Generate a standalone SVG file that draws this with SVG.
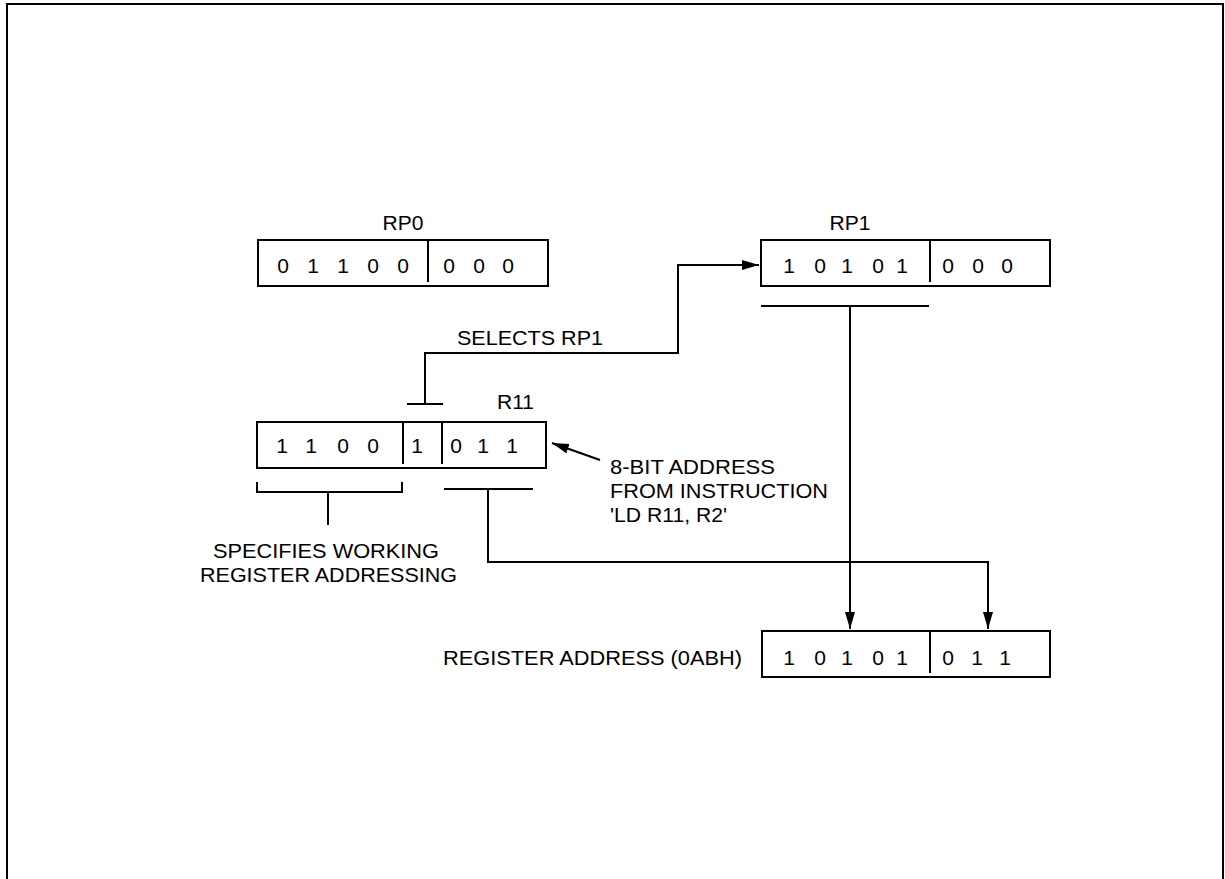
<svg xmlns="http://www.w3.org/2000/svg" width="1225" height="879" viewBox="0 0 1225 879">
<defs>
<style>
text{font-family:"Liberation Sans",Arial,sans-serif;font-size:21px;fill:#000}
.d{text-anchor:middle}
.box{fill:#fff;stroke:#000;stroke-width:2}
.ln{fill:none;stroke:#000;stroke-width:2}
</style>
<marker id="ah" markerUnits="userSpaceOnUse" markerWidth="20" markerHeight="12" refX="17" refY="5" orient="auto">
<path d="M0,0 L17,5 L0,10 Z" fill="#000"/>
</marker>
</defs>
<rect x="0" y="0" width="1225" height="879" fill="#fff"/>
<path class="ln" d="M7,890 V4 H1223 V890"/>

<g id="rp0">
<text class="d" x="403" y="230">RP0</text>
<rect class="box" x="258" y="240" width="290" height="46"/>
<line class="ln" x1="428" y1="240" x2="428" y2="282"/>
<text class="d" x="283" y="273">0</text><text class="d" x="313" y="273">1</text><text class="d" x="343" y="273">1</text><text class="d" x="373" y="273">0</text><text class="d" x="403" y="273">0</text>
<text class="d" x="449" y="273">0</text><text class="d" x="479" y="273">0</text><text class="d" x="508" y="273">0</text>
</g>

<g id="rp1">
<text class="d" x="850" y="230">RP1</text>
<rect class="box" x="761" y="240" width="289" height="46"/>
<line class="ln" x1="930" y1="240" x2="930" y2="282"/>
<text class="d" x="789" y="273">1</text><text class="d" x="820" y="273">0</text><text class="d" x="847" y="273">1</text><text class="d" x="878" y="273">0</text><text class="d" x="902" y="273">1</text>
<text class="d" x="948" y="273">0</text><text class="d" x="978" y="273">0</text><text class="d" x="1007" y="273">0</text>
</g>

<g id="r11">
<text x="497" y="409">R11</text>
<rect class="box" x="257" y="422" width="289" height="46"/>
<line class="ln" x1="403" y1="422" x2="403" y2="464"/>
<line class="ln" x1="442" y1="422" x2="442" y2="464"/>
<text class="d" x="282" y="453">1</text><text class="d" x="311" y="453">1</text><text class="d" x="343" y="453">0</text><text class="d" x="373" y="453">0</text>
<text class="d" x="417" y="453">1</text>
<text class="d" x="456" y="453">0</text><text class="d" x="483" y="453">1</text><text class="d" x="512" y="453">1</text>
</g>

<g id="regaddr">
<text x="443" y="665" textLength="299" lengthAdjust="spacingAndGlyphs">REGISTER ADDRESS (0ABH)</text>
<rect class="box" x="762" y="631" width="288" height="46"/>
<line class="ln" x1="930" y1="631" x2="930" y2="673"/>
<text class="d" x="789" y="665">1</text><text class="d" x="820" y="665">0</text><text class="d" x="847" y="665">1</text><text class="d" x="878" y="665">0</text><text class="d" x="902" y="665">1</text>
<text class="d" x="948" y="665">0</text><text class="d" x="977" y="665">1</text><text class="d" x="1005" y="665">1</text>
</g>

<g id="labels">
<text x="457" y="345" textLength="146" lengthAdjust="spacingAndGlyphs">SELECTS RP1</text>
<text x="610" y="474" textLength="165" lengthAdjust="spacingAndGlyphs">8-BIT ADDRESS</text>
<text x="610" y="498" textLength="218" lengthAdjust="spacingAndGlyphs">FROM INSTRUCTION</text>
<text x="610" y="522" textLength="117" lengthAdjust="spacingAndGlyphs">'LD R11, R2'</text>
<text x="213" y="558" textLength="226" lengthAdjust="spacingAndGlyphs">SPECIFIES WORKING</text>
<text x="200" y="582" textLength="257" lengthAdjust="spacingAndGlyphs">REGISTER ADDRESSING</text>
</g>

<g id="connectors">
<path class="ln" d="M407,404 H443 M425,404 V353 H678 V265 H759" marker-end="url(#ah)"/>
<path class="ln" d="M761,306 H929"/>
<path class="ln" d="M850,306 V629" marker-end="url(#ah)"/>
<path class="ln" d="M257,482 V492 H402 V482 M328,492 V525"/>
<path class="ln" d="M444,489 H533"/>
<path class="ln" d="M488,489 V562 H988 V629" marker-end="url(#ah)"/>
<path class="ln" d="M600,460 L552,443" marker-end="url(#ah)"/>
</g>
</svg>
